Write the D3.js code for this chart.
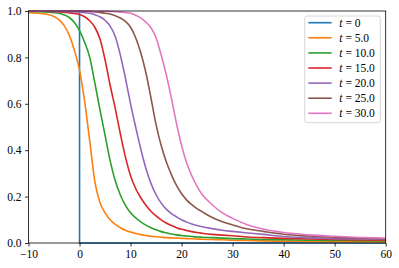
<!DOCTYPE html>
<html><head><meta charset="utf-8">
<script src="https://cdn.jsdelivr.net/npm/d3@7"></script>
<style>body{margin:0;background:#fff}svg{display:block}</style>
</head><body>
<svg id="c" width="399" height="268"></svg>
<script>
const xGrid = [-10,-8,-6,-5,-4,-3,-2,-1,0,1,2,3,4,5,6,7,8,9,10,11,12,13,14,15,16,17,18,19,20,21,22,23,24,26,28,30,33,36,40,45,50,55,60];
const labels = ["0","5.0","10.0","15.0","20.0","25.0","30.0"];
const colors = ["#1f77b4","#ff7f0e","#2ca02c","#d62728","#9467bd","#8c564b","#e377c2"];
const stepX = [-10,0,0,60];
const stepY = [1,1,0,0];
const s5  = [.993,.99,.984,.976,.962,.937,.895,.83,.745,.61,.44,.265,.175,.13,.1,.08,.066,.055,.047,.041,.036,.032,.029,.027,.025,.023,.022,.021,.02,.019,.018,.017,.016,.015,.014,.012,.011,.009,.008,.007,.006,.0055,.005];
const s10 = [.998,.997,.995,.993,.99,.983,.972,.95,.915,.865,.8,.69,.575,.465,.355,.268,.207,.162,.13,.108,.091,.077,.066,.057,.049,.044,.039,.035,.032,.03,.028,.026,.025,.023,.021,.019,.017,.015,.014,.012,.011,.01,.009];
const s15 = [1,.999,.998,.997,.996,.994,.992,.989,.985,.975,.958,.93,.88,.79,.68,.58,.47,.37,.29,.235,.195,.163,.137,.117,.1,.086,.075,.066,.059,.054,.049,.045,.042,.037,.034,.031,.026,.023,.02,.017,.015,.013,.012];
const s20 = [1,1,.999,.999,.998,.998,.997,.996,.995,.993,.99,.984,.975,.96,.935,.89,.81,.71,.6,.5,.405,.322,.257,.208,.172,.146,.127,.113,.1,.09,.082,.075,.07,.062,.055,.05,.043,.037,.028,.023,.019,.017,.015];
const s25 = [1,1,1,1,1,1,1,1,1,.999,.998,.996,.994,.99,.987,.98,.97,.955,.93,.885,.82,.735,.625,.51,.42,.35,.295,.248,.212,.185,.165,.148,.135,.11,.092,.078,.06,.05,.038,.03,.025,.021,.018];
const s30 = [1,1,1,1,1,1,1,1,1,1,1,.999,.999,.999,.998,.997,.995,.993,.99,.982,.97,.952,.928,.885,.81,.725,.625,.515,.42,.345,.29,.245,.21,.165,.13,.106,.078,.06,.045,.035,.029,.024,.021];
const smooth = [s5,s10,s15,s20,s25,s30];

const svg = d3.select("#c");
const L=28.5, R=385.7, T=11, B=243;
const x = d3.scaleLinear().domain([-10,60]).range([L,R]);
const y = d3.scaleLinear().domain([0,1]).range([B,T]);
svg.append("clipPath").attr("id","clip").append("rect").attr("x",L).attr("y",T-1).attr("width",R-L).attr("height",B-T+2);
const g = svg.append("g").attr("clip-path","url(#clip)");
const lineLin = d3.line().x(d=>x(d[0])).y(d=>y(d[1]));
const lineSm = d3.line().x(d=>x(d[0])).y(d=>y(d[1])).curve(d3.curveMonotoneX);
g.append("path").attr("d",lineLin(stepX.map((v,i)=>[v,stepY[i]]))).attr("fill","none").attr("stroke",colors[0]).attr("stroke-width",1.6);
smooth.forEach((s,k)=>{
  g.append("path").attr("d",lineSm(xGrid.map((v,i)=>[v,s[i]]))).attr("fill","none").attr("stroke",colors[k+1]).attr("stroke-width",1.6).attr("stroke-linejoin","round");
});
const font = "'Liberation Serif', serif";
const xa = svg.append("g").attr("transform",`translate(0,${B})`).call(d3.axisBottom(x).tickValues([-10,0,10,20,30,40,50,60]).tickSize(3.5).tickPadding(3.5).tickFormat(d=>d<0?"\u2212"+Math.abs(d):d));
const ya = svg.append("g").attr("transform",`translate(${L},0)`).call(d3.axisLeft(y).tickValues([0,0.2,0.4,0.6,0.8,1.0]).tickSize(3.5).tickPadding(3.5).tickFormat(d3.format(".1f")));
[xa,ya].forEach(a=>{a.select(".domain").remove();a.selectAll("line").attr("stroke","#000").attr("stroke-width",0.8);a.selectAll("text").attr("font-family",font).attr("font-size",11.5).attr("fill","#000");});
svg.append("rect").attr("x",L).attr("y",T).attr("width",R-L).attr("height",B-T).attr("fill","none").attr("stroke","#000").attr("stroke-width",0.8);
// legend
const lg = svg.append("g");
lg.append("rect").attr("x",304.7).attr("y",16).attr("width",75.6).attr("height",106.7).attr("rx",2.5).attr("fill","#fff").attr("fill-opacity",0.8).attr("stroke","#ccc").attr("stroke-width",0.8);
labels.forEach((lab,i)=>{
  const yy = 22.7 + i*15.1;
  lg.append("line").attr("x1",308.3).attr("x2",331.7).attr("y1",yy).attr("y2",yy).attr("stroke",colors[i]).attr("stroke-width",1.6);
  const t = lg.append("text").attr("x",339.3).attr("y",yy+3.8).attr("font-family",font).attr("font-size",11.5).attr("fill","#000");
  t.append("tspan").attr("font-style","italic").text("t");
  t.append("tspan").text(" = "+lab);
});
</script>
</body></html>
